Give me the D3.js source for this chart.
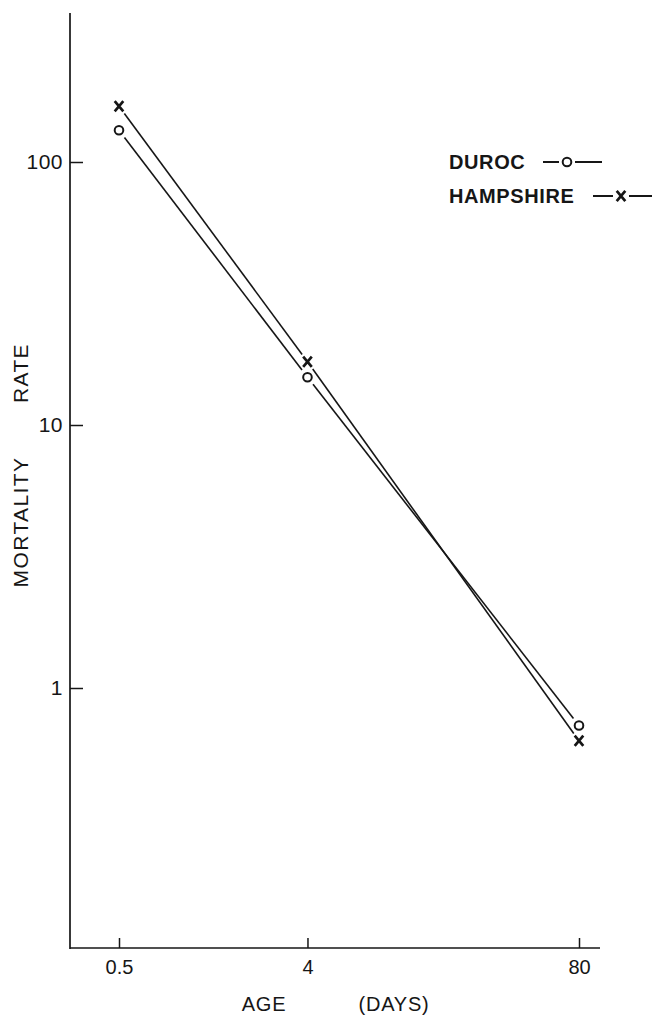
<!DOCTYPE html>
<html>
<head>
<meta charset="utf-8">
<script src="https://cdn.jsdelivr.net/npm/d3@7/dist/d3.min.js"></script>
<style>
  html, body { margin: 0; padding: 0; background: #fff; }
  svg { display: block; }
  text { font-family: "Liberation Sans", Arial, sans-serif; fill: #161616; }
</style>
</head>
<body>
<svg id="chart" width="652" height="1015"></svg>
<script>
// Age at observation (days) and mortality rate per breed
const ages = [0.5, 4, 80];
const durocRate = [132, 15.2, 0.72];
const hampshireRate = [163, 17.4, 0.63];

const yTicks = [1, 10, 100];
const yTickLabels = ["1", "10", "100"];
const xTickLabels = ["0.5", "4", "80"];

const seriesNames = ["DUROC", "HAMPSHIRE"];
const seriesMarks = ["o", "x"];

const svg = d3.select("#chart");
const ink = "#161616";
const font = "'Liberation Sans', Arial, sans-serif";

// scales: log in both directions
const x = d3.scaleLog().domain([0.5, 80]).range([119, 579]);
const y = d3.scaleLog().domain([0.1, 1000]).range([951, -101]);

const axisX0 = 70, axisY0 = 948, axisTop = 13, axisRight = 600;

// axis lines
svg.append("line")
  .attr("x1", axisX0).attr("x2", axisX0)
  .attr("y1", axisTop).attr("y2", axisY0 + 1)
  .attr("stroke", ink).attr("stroke-width", 1.7);
svg.append("line")
  .attr("x1", axisX0).attr("x2", axisRight)
  .attr("y1", axisY0).attr("y2", axisY0)
  .attr("stroke", ink).attr("stroke-width", 1.7);

// y axis ticks (pointing inward)
const yAxis = d3.axisLeft(y)
  .tickValues(yTicks)
  .tickFormat((d, i) => yTickLabels[i])
  .tickSizeInner(-13).tickSizeOuter(0).tickPadding(7);
const gy = svg.append("g").attr("transform", `translate(${axisX0},0)`).call(yAxis);
gy.select(".domain").remove();
gy.selectAll(".tick line").attr("stroke", ink).attr("stroke-width", 1.5);
gy.selectAll(".tick text")
  .style("font-family", font).style("font-size", "21px")
  .style("letter-spacing", "0.5px").attr("fill", ink);

// x axis ticks (pointing upward)
const xAxis = d3.axisBottom(x)
  .tickValues(ages)
  .tickFormat((d, i) => xTickLabels[i])
  .tickSizeInner(-10).tickSizeOuter(0).tickPadding(12);
const gx = svg.append("g").attr("transform", `translate(0,${axisY0})`).call(xAxis);
gx.select(".domain").remove();
gx.selectAll(".tick line").attr("stroke", ink).attr("stroke-width", 1.5);
gx.selectAll(".tick text")
  .style("font-family", font).style("font-size", "20px").attr("fill", ink);

// axis titles
const yTitle = svg.append("g").attr("transform", "translate(28,0) rotate(-90)");
yTitle.append("text").attr("x", -522).attr("y", 0)
  .attr("text-anchor", "middle").style("font-size", "21px")
  .style("letter-spacing", "1.4px").text("MORTALITY");
yTitle.append("text").attr("x", -373).attr("y", 0)
  .attr("text-anchor", "middle").style("font-size", "21px")
  .style("letter-spacing", "1.4px").text("RATE");

svg.append("text").attr("x", 264).attr("y", 1011)
  .attr("text-anchor", "middle").style("font-size", "20px")
  .style("letter-spacing", "0.8px").text("AGE");
svg.append("text").attr("x", 394).attr("y", 1011)
  .attr("text-anchor", "middle").style("font-size", "20px")
  .style("letter-spacing", "0.8px").text("(DAYS)");

// marker drawing
function drawMark(g, kind, cx, cy) {
  if (kind === "o") {
    g.append("circle").attr("cx", cx).attr("cy", cy).attr("r", 4.3)
      .attr("fill", "#fff").attr("stroke", ink).attr("stroke-width", 2);
  } else {
    const s = 4.3;
    g.append("path")
      .attr("d", `M${cx - s},${cy - s - 0.8}L${cx + s},${cy + s + 0.8}M${cx + s},${cy - s - 0.8}L${cx - s},${cy + s + 0.8}`)
      .attr("stroke", ink).attr("stroke-width", 2.7).attr("fill", "none");
  }
}

// series lines, with a small gap left around each marker
const gap = 9;
const seriesData = [durocRate, hampshireRate];
seriesData.forEach((vals, si) => {
  const pts = ages.map((a, i) => [x(a), y(vals[i])]);
  const g = svg.append("g");
  for (let i = 0; i < pts.length - 1; i++) {
    const [x1, y1] = pts[i], [x2, y2] = pts[i + 1];
    const len = Math.hypot(x2 - x1, y2 - y1);
    const ux = (x2 - x1) / len, uy = (y2 - y1) / len;
    g.append("line")
      .attr("x1", x1 + ux * gap).attr("y1", y1 + uy * gap)
      .attr("x2", x2 - ux * gap).attr("y2", y2 - uy * gap)
      .attr("stroke", ink).attr("stroke-width", 1.6);
  }
  pts.forEach(([px, py]) => drawMark(g, seriesMarks[si], px, py));
});

// legend
const legendRows = [
  { name: seriesNames[0], mark: seriesMarks[0], ty: 169, lx1: 543, mx: 567, lx2: 602 },
  { name: seriesNames[1], mark: seriesMarks[1], ty: 203, lx1: 593, mx: 621, lx2: 652 }
];
legendRows.forEach(r => {
  const g = svg.append("g");
  g.append("text").attr("x", 449).attr("y", r.ty)
    .style("font-size", "20px").style("letter-spacing", "0.6px")
    .style("font-weight", "bold").text(r.name);
  const cy = r.ty - 7;
  g.append("line").attr("x1", r.lx1).attr("x2", r.mx - 8).attr("y1", cy).attr("y2", cy)
    .attr("stroke", ink).attr("stroke-width", 2);
  g.append("line").attr("x1", r.mx + 8).attr("x2", r.lx2).attr("y1", cy).attr("y2", cy)
    .attr("stroke", ink).attr("stroke-width", 2);
  drawMark(g, r.mark, r.mx, cy);
});
</script>
</body>
</html>
